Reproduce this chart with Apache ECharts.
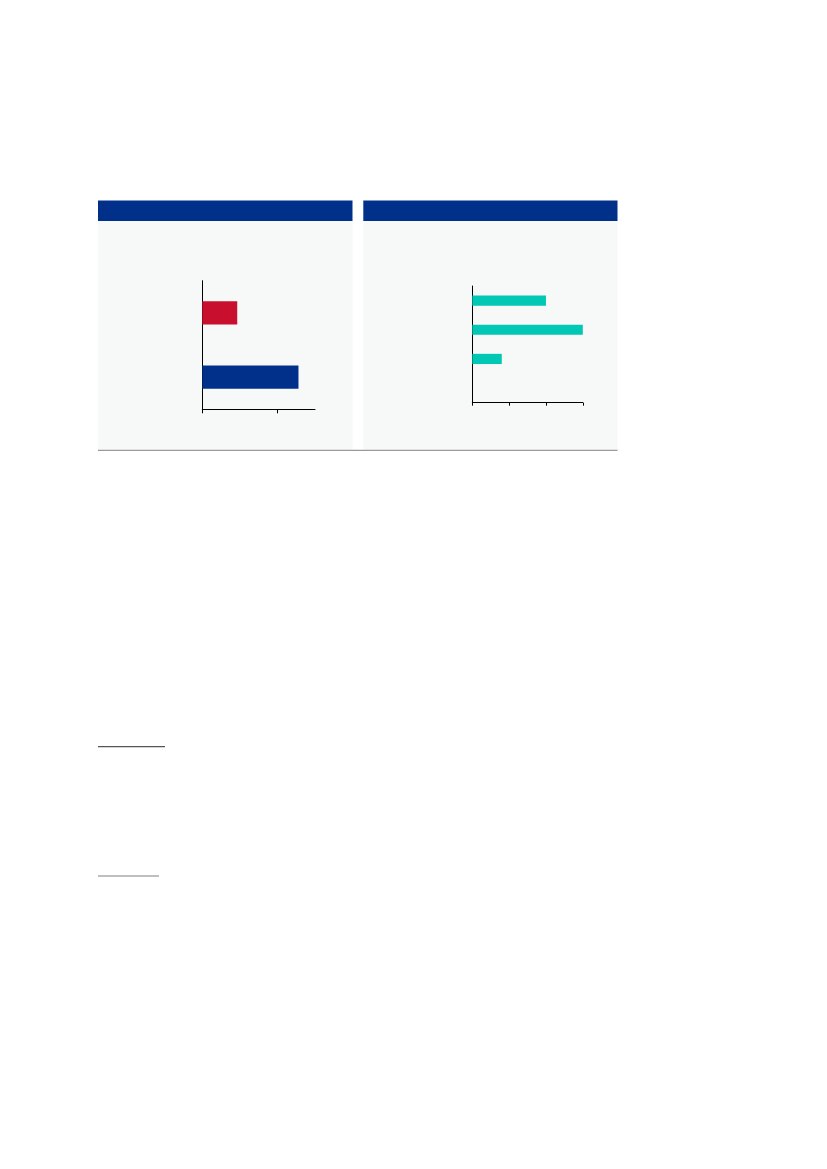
<!DOCTYPE html>
<html>
<head>
<meta charset="utf-8">
<script src="https://cdn.jsdelivr.net/npm/echarts@6/dist/echarts.min.js"></script>
<style>
  html, body { margin: 0; padding: 0; background: #ffffff; }
  #chart { width: 827px; height: 1169px; }
</style>
</head>
<body>
<div id="chart"></div>
<script>
// ---- Data (no labels are printed in the reference) ----
const leftCategories = ['A', 'B'];
const leftValues = [46.5, 128];
const leftColors = ['#c8102e', '#00308a'];
const leftTicks = [0, 100];

const rightCategories = ['A', 'B', 'C', 'D'];
const rightValues = [20, 30, 8, null];
const rightTicks = [0, 10, 20, 30];

const NAVY = '#00308a';
const TEAL = '#00c8b4';
const PANEL = '#f7f8f8';

const chart = echarts.init(document.getElementById('chart'), null, { renderer: 'canvas' });

const axisLineStyle = { show: true, lineStyle: { color: '#000', width: 1 } };

chart.setOption({
  animation: false,
  backgroundColor: '#ffffff',
  graphic: [
    // left panel
    { type: 'rect', z: -10, shape: { x: 98, y: 221, width: 254.5, height: 229 }, style: { fill: PANEL } },
    { type: 'rect', z: -10, shape: { x: 98, y: 200.5, width: 254.5, height: 20.5 }, style: { fill: NAVY } },
    // right panel
    { type: 'rect', z: -10, shape: { x: 363.3, y: 221, width: 254.2, height: 229 }, style: { fill: PANEL } },
    { type: 'rect', z: -10, shape: { x: 363.3, y: 200.5, width: 254.2, height: 20.5 }, style: { fill: NAVY } },
    // bottom rule under both panels
    { type: 'line', z: -5, shape: { x1: 98, y1: 450.3, x2: 617.5, y2: 450.3 }, style: { stroke: '#9a9a9a', lineWidth: 1.2 } },
    // footnote separators
    { type: 'line', shape: { x1: 98, y1: 746.7, x2: 165, y2: 746.7 }, style: { stroke: '#555555', lineWidth: 1.3 } },
    { type: 'line', shape: { x1: 98, y1: 876, x2: 159, y2: 876 }, style: { stroke: '#aaaaaa', lineWidth: 1.3 } }
  ],
  grid: [
    { left: 202.3, top: 280.7, width: 112.7, height: 128.6, containLabel: false },
    { left: 472.3, top: 286, width: 110.5, height: 116.7, containLabel: false }
  ],
  xAxis: [
    {
      gridIndex: 0, type: 'value', min: 0, max: 150, interval: 100,
      axisLine: axisLineStyle,
      axisTick: { show: true, length: 4, customValues: leftTicks, lineStyle: { color: '#000' } },
      axisLabel: { show: false },
      splitLine: { show: false }
    },
    {
      gridIndex: 1, type: 'value', min: 0, max: 30, interval: 10,
      axisLine: axisLineStyle,
      axisTick: { show: true, length: 3, customValues: rightTicks, lineStyle: { color: '#000' } },
      axisLabel: { show: false },
      splitLine: { show: false }
    }
  ],
  yAxis: [
    {
      gridIndex: 0, type: 'category', data: leftCategories, inverse: true,
      axisLine: axisLineStyle, axisTick: { show: false }, axisLabel: { show: false },
      splitLine: { show: false }
    },
    {
      gridIndex: 1, type: 'category', data: rightCategories, inverse: true,
      axisLine: axisLineStyle, axisTick: { show: false }, axisLabel: { show: false },
      splitLine: { show: false }
    }
  ],
  series: [
    {
      type: 'bar', xAxisIndex: 0, yAxisIndex: 0, barWidth: '36%',
      data: leftValues.map((v, i) => ({ value: v, itemStyle: { color: leftColors[i] } }))
    },
    {
      type: 'bar', xAxisIndex: 1, yAxisIndex: 1, barWidth: '35%',
      itemStyle: { color: TEAL },
      data: rightValues
    }
  ]
});
</script>
</body>
</html>
